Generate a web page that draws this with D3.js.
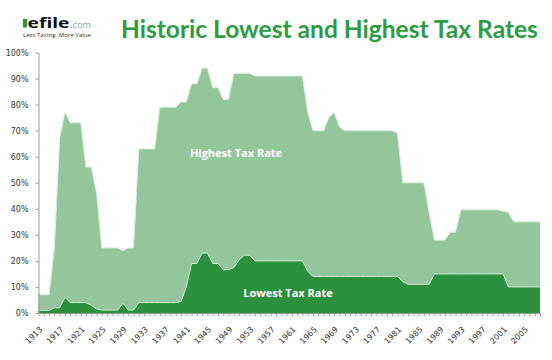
<!DOCTYPE html>
<html>
<head>
<meta charset="utf-8">
<script src="https://cdn.jsdelivr.net/npm/d3@7"></script>
<style>
  html, body { margin: 0; padding: 0; background: #ffffff; }
  svg { display: block; }
</style>
</head>
<body>
<svg id="chart" width="552" height="360"></svg>
<script>
const years = d3.range(1913, 2009);

const highestRate = [
  7, 7, 7, 25, 67, 77, 73, 73, 73, 56,
  56, 46, 25, 25, 25, 25, 24, 25, 25, 63,
  63, 63, 63, 79, 79, 79, 79, 81, 81, 88,
  88, 94, 94, 86.5, 86.5, 82, 82, 92, 92, 92,
  92, 91, 91, 91, 91, 91, 91, 91, 91, 91,
  91, 77, 70, 70, 70, 75, 77, 71.5, 70, 70,
  70, 70, 70, 70, 70, 70, 70, 70, 69, 50,
  50, 50, 50, 50, 38.5, 28, 28, 28, 31, 31,
  39.6, 39.6, 39.6, 39.6, 39.6, 39.6, 39.6, 39.6, 39.1, 38.6,
  35, 35, 35, 35, 35, 35
];

const lowestRate = [
  1, 1, 1, 2, 2, 6, 4, 4, 4, 4,
  3, 1.5, 1.125, 1.125, 1.125, 1.125, 3.75, 1.125, 1.125, 4,
  4, 4, 4, 4, 4, 4, 4, 4.4, 10, 19,
  19, 23, 23, 19, 19, 16.6, 16.6, 17.4, 20.4, 22.2,
  22.2, 20, 20, 20, 20, 20, 20, 20, 20, 20,
  20, 16, 14, 14, 14, 14, 14, 14, 14, 14,
  14, 14, 14, 14, 14, 14, 14, 14, 14, 12,
  11, 11, 11, 11, 11, 15, 15, 15, 15, 15,
  15, 15, 15, 15, 15, 15, 15, 15, 15, 10,
  10, 10, 10, 10, 10, 10
];

const yTicks = [0, 10, 20, 30, 40, 50, 60, 70, 80, 90, 100];
const xLabelYears = d3.range(1913, 2009, 4);

const titleText = "Historic Lowest and Highest Tax Rates";
const highLabel = "Highest Tax Rate";
const lowLabel = "Lowest Tax Rate";

const svg = d3.select("#chart");

const x = d3.scaleLinear().domain([1913, 2008]).range([38.5, 540]);
const y = d3.scaleLinear().domain([0, 100]).range([313, 52.5]);

const highData = years.map((yr, i) => ({ yr, v: highestRate[i] }));
const lowData = years.map((yr, i) => ({ yr, v: lowestRate[i] }));

const area = d3.area().x(d => x(d.yr)).y0(y(0)).y1(d => y(d.v));
const line = d3.line().x(d => x(d.yr)).y(d => y(d.v));

svg.append("path").datum(highData).attr("d", area).attr("fill", "#93c69b");
svg.append("path").datum(highData).attr("d", line)
  .attr("fill", "none").attr("stroke", "#dcefdc").attr("stroke-width", 1);

svg.append("path").datum(lowData).attr("d", area).attr("fill", "#2b913f");
svg.append("path").datum(lowData).attr("d", line)
  .attr("fill", "none").attr("stroke", "#d4ead4").attr("stroke-width", 1);

// Y axis
const yAxis = svg.append("g")
  .attr("transform", `translate(${x(1913)},0)`)
  .call(d3.axisLeft(y).tickValues(yTicks).tickSize(3).tickSizeOuter(0).tickPadding(7)
    .tickFormat(d => d + "%"));
yAxis.select(".domain").attr("stroke", "#9a9a9a");
yAxis.selectAll(".tick line").attr("stroke", "#9a9a9a");
yAxis.selectAll("text").attr("font-family", "DejaVu Sans, Verdana, sans-serif")
  .attr("font-size", 8).attr("fill", "#333");

// X axis
const xAxis = svg.append("g")
  .attr("transform", `translate(0,${y(0)})`)
  .call(d3.axisBottom(x).tickValues(years).tickSize(3).tickSizeOuter(0)
    .tickFormat(d => xLabelYears.includes(d) ? String(d) : ""));
xAxis.select(".domain").attr("stroke", "#9a9a9a");
xAxis.selectAll(".tick line").attr("stroke", "#9a9a9a");
xAxis.selectAll("text")
  .attr("font-family", "DejaVu Sans, Verdana, sans-serif")
  .attr("font-size", 8).attr("fill", "#333")
  .attr("text-anchor", "end")
  .attr("x", 0).attr("y", 0).attr("dy", 0)
  .attr("transform", "translate(4,17) rotate(-45)");

// Labels in areas
svg.append("text").attr("x", 236).attr("y", 157)
  .attr("text-anchor", "middle").attr("fill", "#ffffff")
  .attr("font-family", "Open Sans, sans-serif").attr("font-weight", 700)
  .attr("font-size", 11).text(highLabel);
svg.append("text").attr("x", 288).attr("y", 297)
  .attr("text-anchor", "middle").attr("fill", "#ffffff")
  .attr("font-family", "Open Sans, sans-serif").attr("font-weight", 700)
  .attr("font-size", 11).text(lowLabel);

// Title: size chosen so its natural width fits 121..539
const title = svg.append("text").attr("x", 121).attr("y", 38)
  .attr("fill", "#2c9c42")
  .attr("font-family", "Lato, Open Sans, sans-serif").attr("font-weight", 700)
  .attr("font-size", 25)
  .text(titleText);
const tw = title.node().getComputedTextLength();
title.attr("font-size", Math.min(27, 25 * 417 / tw));

// Logo
const logo = svg.append("g");
logo.append("rect").attr("x", 23).attr("y", 19).attr("width", 4).attr("height", 8.5).attr("fill", "#2a9a3f");
logo.append("text").attr("x", 27.5).attr("y", 27.5)
  .attr("font-family", "Open Sans, sans-serif").attr("font-weight", 700)
  .attr("font-size", 14).attr("fill", "#111")
  .attr("textLength", 42).attr("lengthAdjust", "spacingAndGlyphs").text("efile");
logo.append("text").attr("x", 70.5).attr("y", 27.5)
  .attr("font-family", "Open Sans, sans-serif")
  .attr("font-size", 9).attr("fill", "#9a9a9a").text(".com");
logo.append("text").attr("x", 23).attr("y", 36.5)
  .attr("font-family", "Open Sans, sans-serif")
  .attr("font-size", 5.5).attr("fill", "#333")
  .attr("textLength", 68).attr("lengthAdjust", "spacingAndGlyphs")
  .text("Less Taxing, More Value");
</script>
</body>
</html>
